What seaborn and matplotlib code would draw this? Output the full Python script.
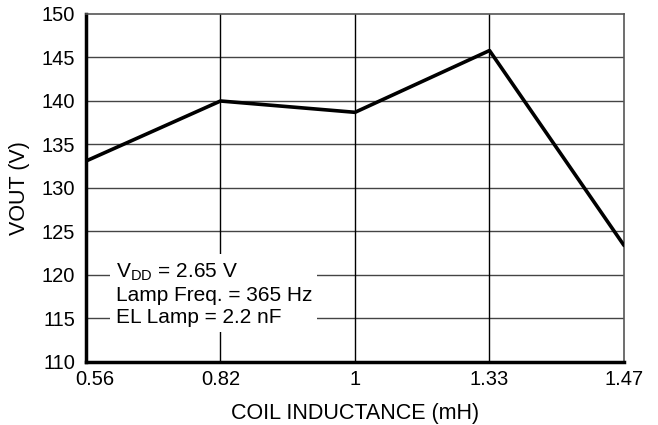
import matplotlib
matplotlib.use("Agg")
import matplotlib.pyplot as plt
import matplotlib.transforms as mtransforms
import seaborn as sns
import pandas as pd

# Data
inductance = ["0.56", "0.82", "1", "1.33", "1.47"]
vout = [133.1, 140.0, 138.7, 145.8, 123.4]
y_ticks = [110, 115, 120, 125, 130, 135, 140, 145, 150]
note_lines = ["V$_{\\mathregular{DD}}$ = 2.65 V", "Lamp Freq. = 365 Hz", "EL Lamp = 2.2 nF"]

sns.set_style("white")
plt.rcParams['font.family'] = ['Liberation Sans', 'DejaVu Sans']
plt.rcParams['mathtext.fontset'] = 'custom'
plt.rcParams['mathtext.rm'] = 'Liberation Sans'
plt.rcParams['text.color'] = 'black'
plt.rcParams['axes.labelcolor'] = 'black'

df = pd.DataFrame({"L": inductance, "V": vout})

fig = plt.figure(figsize=(6.58, 4.25), dpi=100)
ax = fig.add_axes([86 / 658, 1 - 362 / 425, (624 - 86) / 658, (362 - 14) / 425])

sns.lineplot(data=df, x="L", y="V", ax=ax, color="black", linewidth=2.6,
             sort=False, zorder=3)

ax.set_xlim(0, len(inductance) - 1)
ax.set_ylim(110, 150)
ax.set_yticks(y_ticks)
ax.set_xticks(range(len(inductance)))
ax.set_xticklabels(inductance)

for y in y_ticks[1:-1]:
    ax.axhline(y, color="#444444", linewidth=1.0, zorder=1)
for x in range(1, len(inductance) - 1):
    ax.axvline(x, color="black", linewidth=1.0, zorder=1)

ax.tick_params(axis="both", length=0, labelsize=14.5, colors="black")
ax.tick_params(axis="y", pad=8)
ax.tick_params(axis="x", pad=6)
# shift first x label right as in the reference
lbl = ax.get_xticklabels()[0]
lbl.set_transform(lbl.get_transform() + mtransforms.ScaledTranslation(9 / 100, 0, fig.dpi_scale_trans))

ax.set_xlabel("COIL INDUCTANCE (mH)", fontsize=15.5, labelpad=10)
ax.set_ylabel("VOUT (V)", fontsize=15.5, labelpad=8)

for side in ["left", "bottom"]:
    ax.spines[side].set_color("black")
    ax.spines[side].set_linewidth(2.5)
for side in ["top", "right"]:
    ax.spines[side].set_color("#555555")
    ax.spines[side].set_linewidth(1.2)

ax.text(0.22, 117.8, "\n".join(note_lines), fontsize=15, va="center", ha="left",
        linespacing=1.22, zorder=4,
        bbox=dict(boxstyle="square,pad=0.25", facecolor="white", edgecolor="none"))

fig.savefig("out.png", dpi=100)
